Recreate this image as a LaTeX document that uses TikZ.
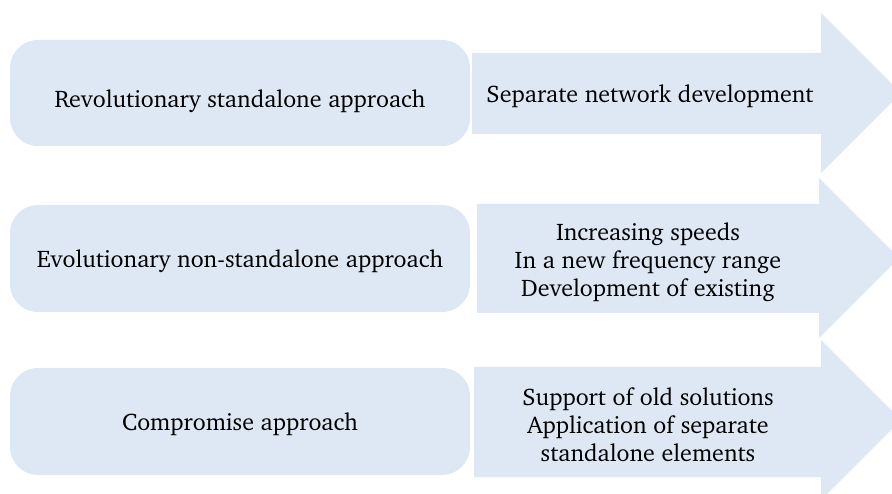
\documentclass[tikz,border=0pt]{standalone}
\usepackage[T1]{fontenc}
\usepackage{charter}
\definecolor{panel}{HTML}{DEE8F5}
\tikzset{
  approach/.style={fill=panel, draw=none, rounded corners=28pt},
  flow/.style={fill=panel, draw=none},
  label/.style={align=center, font=\fontsize{24}{28}\selectfont, text=black, inner sep=0pt},
}
\begin{document}
\begin{tikzpicture}[x=1pt, y=-1pt]
  \useasboundingbox (0,0) rectangle (892,494);

  % rounded approach boxes
  \path[approach] (10,40) rectangle (470,146);
  \path[approach] (10,205) rectangle (470,312);
  \path[approach] (10,368) rectangle (470,475);

  % block arrows (heads run past the right edge)
  \path[flow] (472,53) -- (821,53) -- (821,13) -- (901,93) -- (821,173) -- (821,134) -- (472,134) -- cycle;
  \path[flow] (477,204) -- (819,204) -- (819,178) -- (899,258) -- (819,338) -- (819,313) -- (477,313) -- cycle;
  \path[flow] (474,367) -- (821,367) -- (821,340) -- (901,420) -- (821,500) -- (821,477) -- (474,477) -- cycle;

  % texts
  \node[label] (a1) at (240,101) {Revolutionary standalone approach};
  \node[label] (a2) at (240,261) {Evolutionary non-standalone approach};
  \node[label] (a3) at (240,424) {Compromise approach};

  \node[label] (r1) at (650,96) {Separate network development};
  \node[label] (r2) at (648,262) {Increasing speeds\\In a new frequency range\\Development of existing};
  \node[label] (r3) at (648,425) {Support of old solutions\\Application of separate\\standalone elements};
\end{tikzpicture}
\end{document}
